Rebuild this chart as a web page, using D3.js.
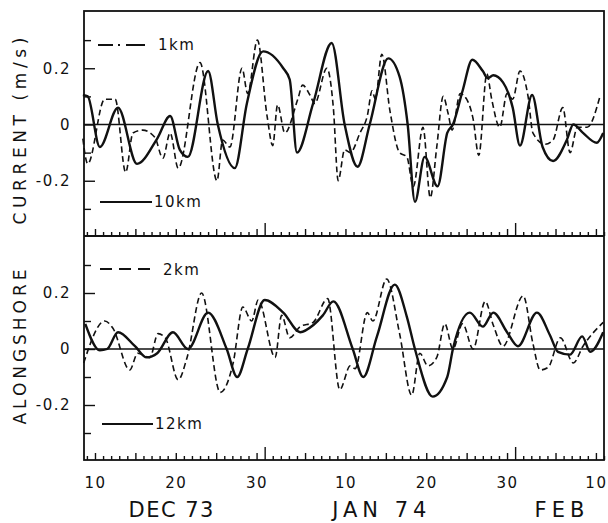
<!DOCTYPE html>
<html>
<head>
<meta charset="utf-8">
<script src="https://d3js.org/d3.v7.min.js"></script>
<style>
    body { margin: 0; background: #fff; }
    svg { display: block; }
    .tick text { font-family: "DejaVu Sans", sans-serif; font-size: 15px; letter-spacing: 1.5px; fill: #111; }
    .tick line { stroke: #111; stroke-width: 1.4px; }
    .FreeText { font-family: "DejaVu Sans", sans-serif; fill: #111; }
</style>
</head>
<body>
<svg id="SvgContainer"></svg>
<script>
// days counted from 1 Dec 1973 (Jan 1 = day 32, Feb 1 = day 63), values in m/s
var current1km = [[8.5,-0.05],[9.1,-0.14],[11.2,0.09],[12.5,0.09],[13.8,-0.17],[14.7,-0.03],[15.9,-0.02],
    [17.4,-0.045],[18.4,-0.12],[19.3,-0.03],[20.3,-0.155],[23.0,0.22],[25.1,-0.2],[25.8,-0.055],[26.7,-0.08],
    [28.2,0.2],[28.9,0.11],[30.1,0.3],[31.3,0.03],[32.0,-0.075],[32.6,0.07],[33.5,-0.03],[35.1,0.09],
    [35.7,0.14],[36.6,0.105],[37.2,0.075],[38.7,0.2],[39.5,0.06],[40.1,-0.2],[40.9,-0.09],[41.6,-0.1],
    [42.8,-0.03],[43.7,0.03],[44.3,0.12],[44.7,0.09],[45.5,0.25],[46.5,0.05],[47.7,-0.1],[48.6,-0.115],
    [49.4,-0.22],[50.6,-0.01],[51.5,-0.26],[52.3,-0.08],[53.1,0.1],[53.7,0.04],[54.2,-0.02],[55.2,0.11],
    [56.0,0.09],[56.8,0.02],[57.5,-0.11],[58.5,0.18],[59.1,0.09],[60.1,-0.01],[61.0,0.11],[61.7,0.09],
    [62.6,0.19],[63.6,0.1],[64.2,-0.03],[65.7,-0.07],[66.7,-0.055],[67.9,0.06],[68.8,-0.1],[69.7,-0.01],
    [70.9,-0.01],[72.5,0.1]];

var current10km = [[8.5,0.105],[9.1,0.1],[10.6,-0.08],[12.85,0.06],[15.2,-0.14],[17.7,-0.05],[19.3,0.03],
    [20.5,-0.09],[21.5,-0.115],[24.0,0.19],[25.2,0.0],[27.3,-0.155],[28.8,0.075],[30.8,0.26],[33.3,0.2],
    [34.1,0.16],[35.0,-0.1],[37.0,0.075],[39.3,0.29],[40.9,0.0],[42.5,-0.15],[44.0,0.0],[46.3,0.235],
    [47.7,0.17],[48.7,0.0],[49.6,-0.275],[50.8,-0.115],[52.4,-0.22],[53.6,-0.03],[54.3,0.0],[55.5,0.12],
    [56.7,0.23],[58.0,0.19],[58.6,0.165],[59.3,0.175],[60.5,0.15],[61.7,0.06],[62.6,-0.075],[64.1,0.105],
    [65.4,-0.08],[66.7,-0.13],[68.4,-0.055],[69.2,0.0],[70.4,-0.03],[72.1,-0.065],[72.9,-0.03]];

var along2km = [[8.6,-0.05],[11.2,0.1],[12.2,0.075],[14.3,-0.075],[15.3,-0.015],[16.8,-0.03],[17.8,0.055],
    [18.7,0.04],[20.3,-0.11],[21.4,-0.03],[23.2,0.2],[25.5,-0.155],[27.1,-0.05],[28.3,0.15],[29.4,0.1],
    [30.2,0.175],[32.3,-0.03],[33.1,0.12],[34.1,0.04],[35.4,0.08],[37.0,0.095],[38.8,0.18],[40.3,-0.145],
    [41.6,-0.06],[42.2,-0.07],[43.7,0.13],[44.4,0.1],[46.1,0.25],[47.7,0.055],[49.2,-0.165],[50.2,-0.015],
    [51.2,-0.06],[52.3,-0.03],[53.3,0.09],[54.3,0.0],[55.5,0.09],[56.8,0.0],[58.3,0.17],[59.3,0.085],
    [60.5,0.01],[63.0,0.19],[64.2,0.02],[65.1,-0.075],[66.1,-0.065],[67.6,0.04],[69.2,-0.05],[70.4,0.01],
    [72.9,0.095]];

var along12km = [[8.8,0.09],[10.6,-0.005],[11.5,0.0],[12.85,0.06],[14.95,0.01],[16.4,-0.03],[17.7,-0.015],
    [19.65,0.06],[21.5,0.0],[24.0,0.13],[26.3,0.0],[27.6,-0.1],[28.9,0.0],[31.0,0.175],[33.3,0.13],
    [35.4,0.06],[37.0,0.085],[38.2,0.12],[39.5,0.17],[41.9,0.0],[43.2,-0.1],[44.9,0.045],[47.1,0.23],
    [48.6,0.115],[49.6,0.0],[51.8,-0.17],[53.6,-0.1],[54.3,0.0],[56.4,0.13],[58.0,0.08],[59.3,0.13],
    [61.0,0.06],[62.35,0.01],[64.7,0.13],[66.3,0.05],[67.3,-0.01],[68.8,-0.02],[70.3,0.045],[71.3,-0.01],
    [72.9,0.06]];

var dayLabelDays = [10, 20, 30, 41, 51, 61, 72];
var dayLabels = ["10", "20", "30", "10", "20", "30", "10"];
var fiveDayTicks = [10, 15, 20, 25, 30, 36, 41, 46, 51, 56, 61, 67, 72];
var monthTicks = [31, 62];
var monthLabels = ["DEC 73", "JAN 74", "FEB"];
var monthLabelDays = [19.5, 45.5, 67.8];

var valueTicks = [0.2, 0, -0.2];
var valueLabels = ["0.2", "0", "-0.2"];
var minorValueTicks = [0.3, 0.1, -0.1, -0.3];


function DrawChart() {
    var width = 608;
    var height = 523;
    var left = 84;
    var right = 604;
    var topY = 11;
    var splitY = 236;
    var bottomY = 460;

    var svg = d3.select("#SvgContainer")
        .attr("width", width)
        .attr("height", height);

    var x = d3.scaleLinear().domain([8.64, 73.0]).range([left, right]);
    var yTop = d3.scaleLinear().domain([-0.4, 0.4]).range([237, 12]);
    var yBottom = d3.scaleLinear().domain([-0.4, 0.4]).range([461, 237]);

    var allDays = d3.range(9, 74).filter(function (d) {
        return fiveDayTicks.indexOf(d) < 0 && monthTicks.indexOf(d) < 0;
    });

    function DrawDayTicks(yPos) {
        [[allDays, 4], [fiveDayTicks, 7], [monthTicks, 13]].forEach(function (t) {
            var g = svg.append("g")
                .attr("transform", "translate(0," + yPos + ")")
                .call(d3.axisBottom(x).tickValues(t[0]).tickSize(-t[1]).tickFormat(""));
            g.select(".domain").remove();
        });
    }

    function DrawValueAxis(y) {
        var g1 = svg.append("g")
            .attr("transform", "translate(" + left + ",0)")
            .call(d3.axisRight(y).tickValues(minorValueTicks).tickSize(7).tickFormat(""));
        g1.select(".domain").remove();

        var g2 = svg.append("g")
            .attr("transform", "translate(" + left + ",0)")
            .call(d3.axisRight(y).tickValues(valueTicks).tickSize(11).tickFormat(""));
        g2.select(".domain").remove();

        var g3 = svg.append("g")
            .attr("transform", "translate(" + left + ",0)")
            .call(d3.axisLeft(y).tickValues(valueTicks).tickSize(0).tickPadding(13)
                .tickFormat(function (d, i) { return valueLabels[i]; }));
        g3.select(".domain").remove();
    }

    DrawDayTicks(splitY);
    DrawDayTicks(bottomY);
    DrawValueAxis(yTop);
    DrawValueAxis(yBottom);

    // day labels under the lower panel
    var labelAxis = svg.append("g")
        .attr("transform", "translate(0," + bottomY + ")")
        .call(d3.axisBottom(x).tickValues(dayLabelDays).tickSize(0).tickPadding(17)
            .tickFormat(function (d, i) { return dayLabels[i]; }));
    labelAxis.select(".domain").remove();

    svg.selectAll(".MonthText")
        .data(monthLabels)
        .enter()
        .append("text")
        .attr("class", "FreeText")
        .attr("x", function (d, i) { return x(monthLabelDays[i]); })
        .attr("y", 517)
        .attr("text-anchor", "middle")
        .style("font-size", "21px")
        .style("letter-spacing", function (d, i) { return i == 0 ? "1.5px" : "5px"; })
        .text(function (d) { return d; });

    // zero lines
    svg.append("line")
        .attr("x1", left).attr("x2", right)
        .attr("y1", yTop(0)).attr("y2", yTop(0))
        .attr("stroke", "#111").attr("stroke-width", 1.6);
    svg.append("line")
        .attr("x1", left).attr("x2", right)
        .attr("y1", yBottom(0)).attr("y2", yBottom(0))
        .attr("stroke", "#111").attr("stroke-width", 1.6);

    // series
    var lineTop = d3.line()
        .x(function (d) { return x(d[0]); })
        .y(function (d) { return yTop(d[1]); })
        .curve(d3.curveMonotoneX);
    var lineBottom = d3.line()
        .x(function (d) { return x(d[0]); })
        .y(function (d) { return yBottom(d[1]); })
        .curve(d3.curveMonotoneX);

    svg.append("path").datum(current1km)
        .attr("d", lineTop)
        .attr("fill", "none").attr("stroke", "#111")
        .attr("stroke-width", 1.6).attr("stroke-dasharray", "6,3.5");
    svg.append("path").datum(current10km)
        .attr("d", lineTop)
        .attr("fill", "none").attr("stroke", "#111")
        .attr("stroke-width", 2.4).attr("stroke-linejoin", "round");
    svg.append("path").datum(along2km)
        .attr("d", lineBottom)
        .attr("fill", "none").attr("stroke", "#111")
        .attr("stroke-width", 1.6).attr("stroke-dasharray", "6,3.5");
    svg.append("path").datum(along12km)
        .attr("d", lineBottom)
        .attr("fill", "none").attr("stroke", "#111")
        .attr("stroke-width", 2.4).attr("stroke-linejoin", "round");

    // frame
    svg.append("rect")
        .attr("x", left).attr("y", topY)
        .attr("width", right - left).attr("height", bottomY - topY)
        .attr("fill", "none").attr("stroke", "#111").attr("stroke-width", 1.8);
    svg.append("line")
        .attr("x1", left).attr("x2", right)
        .attr("y1", splitY).attr("y2", splitY)
        .attr("stroke", "#111").attr("stroke-width", 1.8);

    // legends
    var legendItems = [
        {x1: 98, x2: 145, y: 45, dash: "15,5,2,6,19,10", w: 1.8, label: "1km", tx: 158, ty: 50},
        {x1: 100, x2: 152, y: 202, dash: null, w: 1.8, label: "10km", tx: 154, ty: 207},
        {x1: 100, x2: 153, y: 269, dash: "12,7", w: 1.8, label: "2km", tx: 163, ty: 275},
        {x1: 102, x2: 153, y: 424, dash: null, w: 1.8, label: "12km", tx: 155, ty: 429}
    ];
    legendItems.forEach(function (l) {
        svg.append("line")
            .attr("x1", l.x1).attr("x2", l.x2)
            .attr("y1", l.y).attr("y2", l.y)
            .attr("stroke", "#111").attr("stroke-width", l.w)
            .attr("stroke-dasharray", l.dash);
        svg.append("text")
            .attr("class", "FreeText")
            .attr("x", l.tx).attr("y", l.ty)
            .style("font-size", "15px")
            .style("letter-spacing", "1.5px")
            .text(l.label);
    });

    // panel titles
    var titles = [["CURRENT (m/s)", 131, 187], ["ALONGSHORE", 347, 155]];
    titles.forEach(function (t) {
        svg.append("text")
            .attr("class", "FreeText")
            .attr("transform", "translate(26," + t[1] + ") rotate(-90)")
            .attr("text-anchor", "middle")
            .attr("textLength", t[2])
            .attr("lengthAdjust", "spacing")
            .style("font-size", "17px")
            .text(t[0]);
    });
}

DrawChart();
</script>
</body>
</html>
